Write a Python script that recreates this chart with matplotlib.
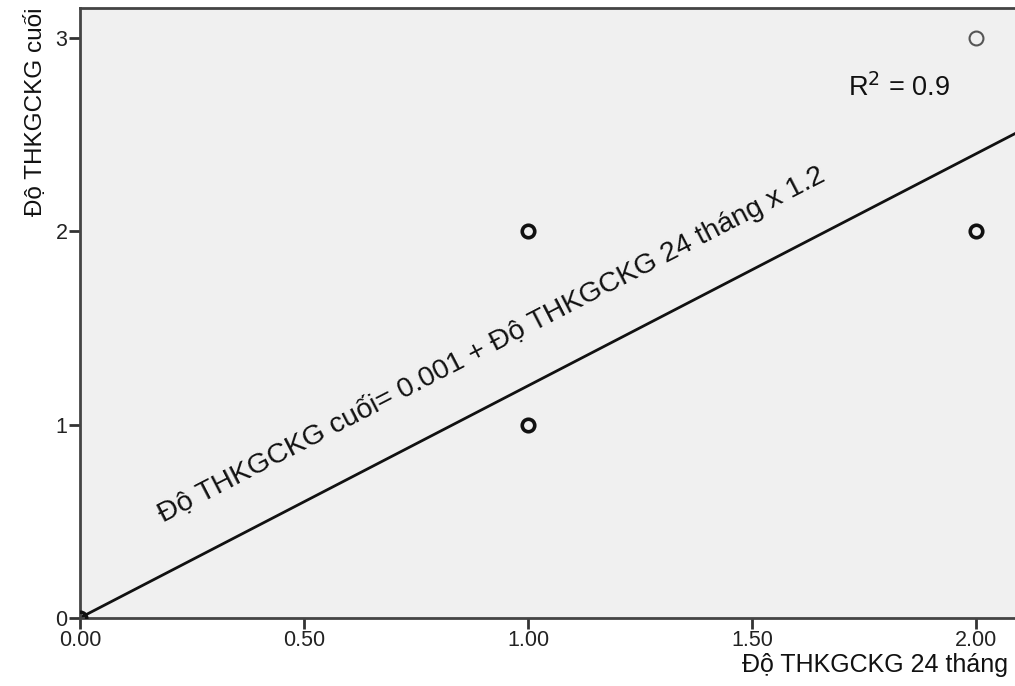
import matplotlib
matplotlib.use("Agg")
import matplotlib.pyplot as plt

# Data
x_vals = [0, 1, 1, 2, 2]
y_vals = [0, 1, 2, 2, 3]
point_weight = [3, 3, 3, 3, 1]   # apparent overlap (darker circles)
intercept = 0.001
slope = 1.2
r2_text = "R$^2$ = 0.9"
eq_text = "Độ THKGCKG cuối= 0.001 + Độ THKGCKG 24 tháng x 1.2"
x_ticks = [0.0, 0.5, 1.0, 1.5, 2.0]
x_ticklabels = ["0.00", "0.50", "1.00", "1.50", "2.00"]
y_ticks = [0, 1, 2, 3]
y_ticklabels = ["0", "1", "2", "3"]
x_label = "Độ THKGCKG 24 tháng"
y_label = "Độ THKGCKG cuối"

plt.rcParams['font.family'] = ['Liberation Sans', 'DejaVu Sans']

fig = plt.figure(figsize=(10.15, 6.86), dpi=100)
ax = fig.add_axes([80/1015, 68/686, 1 - 80/1015, 610/686])
ax.set_facecolor("#f0f0f0")

ax.set_xlim(0, 2.087)
ax.set_ylim(0, 3.155)

ax.axline((0, intercept), slope=slope, color="#111111", lw=2.0, zorder=2)

for x, y, w in zip(x_vals, y_vals, point_weight):
    if w > 1:
        ax.plot(x, y, marker="o", ms=9, mfc="none", mec="#111111", mew=2.6, zorder=3, linestyle="none")
    else:
        ax.plot(x, y, marker="o", ms=10, mfc="none", mec="#555555", mew=1.5, zorder=3, linestyle="none")

ax.set_xticks(x_ticks)
ax.set_xticklabels(x_ticklabels)
ax.set_yticks(y_ticks)
ax.set_yticklabels(y_ticklabels)
ax.tick_params(axis="both", direction="out", length=8, width=2, color="#333333",
               labelsize=15.5, labelcolor="#222222", pad=1)

for side in ["left", "bottom", "top"]:
    ax.spines[side].set_color("#444444")
    ax.spines[side].set_linewidth(2)
ax.spines["right"].set_visible(False)

xl = ax.set_xlabel(x_label, loc="right", fontsize=18, color="#111111", labelpad=1)
xl.set_x(0.993)
yl = ax.set_ylabel(y_label, loc="top", fontsize=17.5, color="#111111", labelpad=6)
yl.set_y(1.0)

ax.text(1.715, 2.74, r2_text, fontsize=19.5, color="#111111", ha="left", va="center")
ax.text(0.185, 0.495, eq_text, fontsize=20.5, color="#111111", rotation=27.3,
        rotation_mode="anchor", ha="left", va="baseline")

fig.savefig("out.png", dpi=100)
